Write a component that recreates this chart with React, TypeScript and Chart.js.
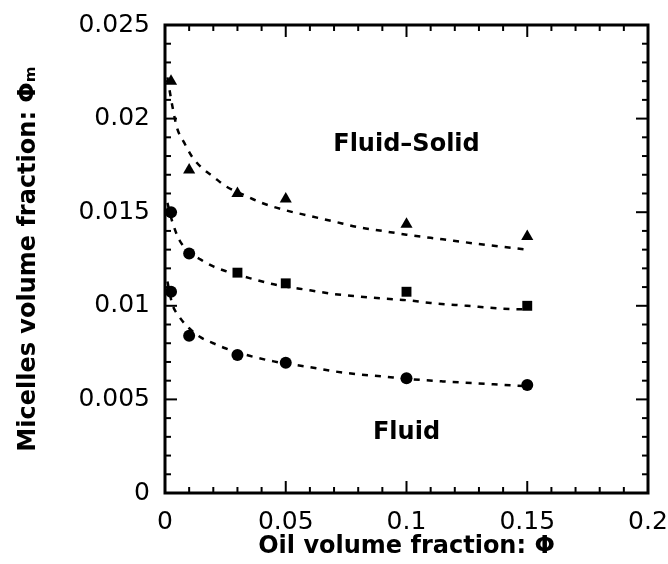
import React, { useEffect, useRef } from "react";
import { Chart, registerables } from "chart.js";

Chart.register(...registerables);

// Measured points
const oilFraction = [0.0025, 0.01, 0.03, 0.05, 0.1, 0.15];
const upperBoundary = [0.022, 0.01725, 0.016, 0.0157, 0.01435, 0.0137];
const middleBoundary = [0.015, 0.0128, 0.01177, 0.0112, 0.01075, 0.01];
const lowerBoundary = [0.01075, 0.0084, 0.00737, 0.00696, 0.00613, 0.00577];
const middleStyles = ["circle", "circle", "rect", "rect", "rect", "rect"];

// Dashed fitted curves
const upperFitX = [0.001, 0.003, 0.005, 0.008, 0.011, 0.015, 0.02, 0.025, 0.033, 0.04, 0.05, 0.06, 0.07, 0.08, 0.09, 0.1, 0.115, 0.13, 0.15];
const upperFitY = [0.0222, 0.0207, 0.0195, 0.0187, 0.018, 0.0174, 0.0169, 0.0164, 0.0159, 0.0155, 0.0151, 0.0148, 0.0145, 0.0142, 0.014, 0.0138, 0.01355, 0.0133, 0.013];
const middleFitX = [0.001, 0.003, 0.006, 0.01, 0.015, 0.02, 0.025, 0.035, 0.045, 0.06, 0.07, 0.08, 0.09, 0.1, 0.11, 0.125, 0.14, 0.15];
const middleFitY = [0.0155, 0.0145, 0.0135, 0.0129, 0.01245, 0.0121, 0.01186, 0.01148, 0.01115, 0.01083, 0.01063, 0.0105, 0.01039, 0.0103, 0.01015, 0.01, 0.00985, 0.0098];
const lowerFitX = [0.001, 0.003, 0.006, 0.01, 0.015, 0.02, 0.025, 0.035, 0.045, 0.06, 0.07, 0.08, 0.09, 0.1, 0.115, 0.13, 0.15];
const lowerFitY = [0.0113, 0.0101, 0.0094, 0.0088, 0.0083, 0.008, 0.00773, 0.00733, 0.00703, 0.00672, 0.0065, 0.00634, 0.00623, 0.0061, 0.00596, 0.00585, 0.0057];

// Axes
const xTicks = [0, 0.05, 0.1, 0.15, 0.2];
const xTickLabels = ["0", "0.05", "0.1", "0.15", "0.2"];
const yTicks = [0, 0.005, 0.01, 0.015, 0.02, 0.025];
const yTickLabels = ["0", "0.005", "0.01", "0.015", "0.02", "0.025"];
const xMinorTicks = [0, 0.01, 0.02, 0.03, 0.04, 0.05, 0.06, 0.07, 0.08, 0.09, 0.1, 0.11, 0.12, 0.13, 0.14, 0.15, 0.16, 0.17, 0.18, 0.19, 0.2];
const yMinorTicks = [0, 0.001, 0.002, 0.003, 0.004, 0.005, 0.006, 0.007, 0.008, 0.009, 0.01, 0.011, 0.012, 0.013, 0.014, 0.015, 0.016, 0.017, 0.018, 0.019, 0.02, 0.021, 0.022, 0.023, 0.024, 0.025];
const xTitle = "Oil volume fraction: Φ";
const yTitle = "Micelles volume fraction: Φₘ";

// Region labels
const regionLabels = ["Fluid–Solid", "Fluid"];
const regionX = [0.1, 0.1];
const regionY = [0.0186, 0.0032];

const pts = (xs: number[], ys: number[]) => xs.map((x, i) => ({ x, y: ys[i] }));

const isMajor = (v: number, majors: number[]) => majors.some((m) => Math.abs(m - v) < 1e-9);

const framePlugin = {
  id: "phaseFrame",
  afterDraw(chart: any) {
    const ctx = chart.ctx;
    const a = chart.chartArea;
    const xs = chart.scales.x;
    const ys = chart.scales.y;
    ctx.save();
    ctx.strokeStyle = "#000000";
    ctx.lineCap = "butt";
    ctx.lineWidth = 2;
    for (const v of xMinorTicks) {
      const px = xs.getPixelForValue(v);
      const len = isMajor(v, xTicks) ? 12 : 6;
      ctx.beginPath();
      ctx.moveTo(px, a.bottom);
      ctx.lineTo(px, a.bottom - len);
      ctx.stroke();
      ctx.beginPath();
      ctx.moveTo(px, a.top);
      ctx.lineTo(px, a.top + len);
      ctx.stroke();
    }
    for (const v of yMinorTicks) {
      const py = ys.getPixelForValue(v);
      const len = isMajor(v, yTicks) ? 12 : 6;
      ctx.beginPath();
      ctx.moveTo(a.left, py);
      ctx.lineTo(a.left + len, py);
      ctx.stroke();
      ctx.beginPath();
      ctx.moveTo(a.right, py);
      ctx.lineTo(a.right - len, py);
      ctx.stroke();
    }
    ctx.lineWidth = 3;
    ctx.strokeRect(a.left, a.top, a.right - a.left, a.bottom - a.top);
    ctx.fillStyle = "#000000";
    ctx.font = 'bold 24px "DejaVu Sans"';
    ctx.textAlign = "center";
    ctx.textBaseline = "middle";
    regionLabels.forEach((t, i) => {
      ctx.fillText(t, xs.getPixelForValue(regionX[i]), ys.getPixelForValue(regionY[i]));
    });
    ctx.restore();
  },
};

export default function App() {
  const ref = useRef<HTMLCanvasElement | null>(null);

  useEffect(() => {
    if (!ref.current) return;
    const fit = (xs: number[], ys: number[]) => ({
      data: pts(xs, ys),
      showLine: true,
      borderColor: "#000",
      borderWidth: 2.5,
      borderDash: [6, 7],
      pointRadius: 0,
      cubicInterpolationMode: "monotone" as const,
      fill: false,
    });
    const chart = new Chart(ref.current, {
      type: "scatter",
      data: {
        datasets: [
          fit(upperFitX, upperFitY),
          fit(middleFitX, middleFitY),
          fit(lowerFitX, lowerFitY),
          {
            data: pts(oilFraction, upperBoundary),
            pointStyle: "triangle",
            pointRadius: 7,
            backgroundColor: "#000",
            borderColor: "#000",
            borderWidth: 0,
          },
          {
            data: pts(oilFraction, middleBoundary),
            pointStyle: middleStyles as any,
            pointRadius: [6, 6, 7, 7, 7, 7] as any,
            backgroundColor: "#000",
            borderColor: "#000",
            borderWidth: 0,
          },
          {
            data: pts(oilFraction, lowerBoundary),
            pointStyle: "circle",
            pointRadius: 6,
            backgroundColor: "#000",
            borderColor: "#000",
            borderWidth: 0,
          },
        ] as any,
      },
      options: {
        animation: false,
        responsive: false,
        devicePixelRatio: 1,
        layout: { padding: { top: 25, right: 20, left: 0, bottom: 0 } },
        plugins: { legend: { display: false }, tooltip: { enabled: false } },
        scales: {
          x: {
            type: "linear",
            min: 0,
            max: 0.2,
            grid: { display: false, drawTicks: false },
            border: { display: false },
            afterBuildTicks: (s: any) => {
              s.ticks = xTicks.map((v) => ({ value: v }));
            },
            afterFit: (s: any) => {
              s.height = 71;
              s.paddingLeft = 0;
              s.paddingRight = 0;
            },
            ticks: {
              padding: 14,
              color: "#000",
              maxRotation: 0,
              autoSkip: false,
              font: { family: "DejaVu Sans", size: 25 },
              callback: (_v: any, i: number) => xTickLabels[i],
            },
            title: {
              display: true,
              text: xTitle,
              color: "#000",
              font: { family: "DejaVu Sans", size: 24, weight: "bold" },
              padding: { top: 0, bottom: 3 },
            },
          },
          y: {
            type: "linear",
            min: 0,
            max: 0.025,
            grid: { display: false, drawTicks: false },
            border: { display: false },
            afterBuildTicks: (s: any) => {
              s.ticks = yTicks.map((v) => ({ value: v }));
            },
            afterFit: (s: any) => {
              s.width = 165;
              s.paddingTop = 0;
              s.paddingBottom = 0;
            },
            ticks: {
              padding: 15,
              color: "#000",
              autoSkip: false,
              font: { family: "DejaVu Sans", size: 25 },
              callback: (_v: any, i: number) => yTickLabels[i],
            },
            title: {
              display: true,
              text: yTitle,
              color: "#000",
              font: { family: "DejaVu Sans", size: 24, weight: "bold" },
              padding: { top: 14, bottom: 0 },
            },
          },
        },
      } as any,
      plugins: [framePlugin],
    });
    return () => chart.destroy();
  }, []);

  return (
    <div style={{ position: "absolute", left: 0, top: 0, width: 668, height: 564, background: "#fff" }}>
      <canvas ref={ref} width={668} height={564} style={{ width: 668, height: 564 }} />
    </div>
  );
}
